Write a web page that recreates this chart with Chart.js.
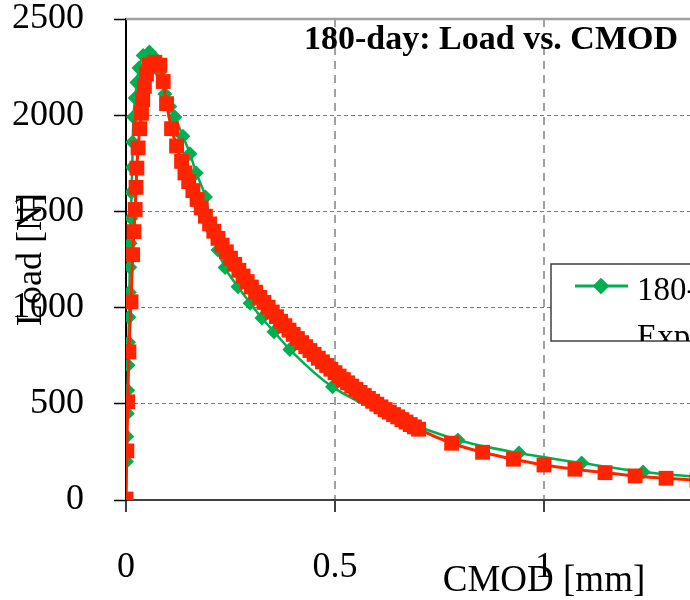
<!DOCTYPE html>
<html>
<head>
<meta charset="utf-8">
<script src="https://cdn.jsdelivr.net/npm/chart.js@4.4.1/dist/chart.umd.min.js"></script>
<style>
  html, body { margin: 0; padding: 0; background: #fff; }
  #wrap { width: 690px; height: 600px; overflow: hidden; position: relative; }
  canvas { display: block; }
</style>
</head>
<body>
<div id="wrap"><canvas id="myChart" width="980" height="600" style="width:980px;height:600px"></canvas></div>
<script>
const chartTitle = '180-day: Load vs. CMOD';
const seriesLabels = ['180-day Experiment', '180-day Model'];
const xTitle = 'CMOD [mm]';
const yTitle = 'Load [N]';
const xTickValues = [0, 0.5, 1, 1.5, 2];
const yTickValues = [0, 500, 1000, 1500, 2000, 2500];

// experiment (green diamonds)
const expCmod = [0, 0.001, 0.002, 0.003, 0.004, 0.005, 0.006, 0.007, 0.008, 0.009, 0.010, 0.012,
  0.013, 0.015, 0.016, 0.018, 0.022, 0.026, 0.031, 0.041, 0.056, 0.069, 0.081, 0.093, 0.105,
  0.117, 0.136, 0.153, 0.168, 0.190, 0.207, 0.220, 0.237, 0.268, 0.297, 0.325, 0.354, 0.392,
  0.494, 0.645, 0.794, 0.940, 1.090, 1.237, 1.385, 1.530, 1.680, 1.830, 1.980];
const expLoad = [0, 200, 330, 450, 570, 700, 820, 950, 1080, 1210, 1335, 1465,
  1600, 1730, 1860, 1990, 2090, 2170, 2245, 2310, 2328, 2297, 2225, 2110, 2045,
  1990, 1890, 1800, 1700, 1575, 1400, 1300, 1208, 1108, 1023, 946, 875, 782,
  588, 430, 312, 244, 192, 146, 118, 98, 85, 76, 70];

// model (red squares)
const modelCmod = [0, 0.002, 0.004, 0.007, 0.012, 0.016, 0.019, 0.022, 0.024, 0.026, 0.029, 0.033,
  0.037, 0.040, 0.044, 0.049, 0.056, 0.069, 0.081, 0.089, 0.097, 0.109, 0.121, 0.133, 0.141,
  0.15, 0.16, 0.17, 0.18, 0.19, 0.20, 0.21, 0.22, 0.23, 0.24, 0.25, 0.26, 0.27, 0.28, 0.29,
  0.30, 0.31, 0.32, 0.33, 0.34, 0.35, 0.36, 0.37, 0.38, 0.39, 0.40, 0.41, 0.42, 0.43, 0.44,
  0.45, 0.46, 0.47, 0.48, 0.49, 0.50, 0.51, 0.52, 0.53, 0.54, 0.55, 0.56, 0.57, 0.58, 0.59,
  0.60, 0.61, 0.62, 0.63, 0.64, 0.65, 0.66, 0.67, 0.68, 0.69, 0.70,
  0.779, 0.853, 0.927, 1.000, 1.074, 1.146, 1.218, 1.292, 1.366, 1.440, 1.514, 1.588,
  1.662, 1.736, 1.810, 1.884, 1.958];
const modelLoad = [5, 255, 510, 770, 1030, 1275, 1395, 1510, 1625, 1725, 1830, 1930,
  2010, 2080, 2150, 2215, 2260, 2275, 2260, 2175, 2060, 1930, 1840, 1760, 1700,
  1655, 1608, 1562, 1518, 1475, 1435, 1397, 1360, 1325, 1290, 1257, 1225, 1194, 1164, 1135,
  1107, 1080, 1053, 1027, 1002, 977, 953, 929, 906, 883, 861, 839, 818, 797, 777,
  757, 737, 718, 699, 680, 662, 644, 626, 609, 592, 575, 559, 543, 528, 513,
  498, 484, 470, 457, 444, 432, 418, 405, 392, 380, 368,
  295, 248, 212, 182, 160, 142, 125, 113, 103, 95, 88, 82,
  77, 73, 69, 66, 63];

const GREEN = '#00b050';
const RED = '#ff2400';
const FONT = '"Liberation Serif", "Times New Roman", serif';

Chart.defaults.font.family = FONT;
Chart.defaults.color = '#000';

// title inside plot, gray top frame line, and the partial legend box
const extras = {
  id: 'extras',
  beforeDatasetsDraw(chart) {
    const {ctx, chartArea} = chart;
    ctx.save();
    ctx.strokeStyle = '#a0a0a0';
    ctx.lineWidth = 2.5;
    ctx.beginPath();
    ctx.moveTo(chartArea.left, chartArea.top);
    ctx.lineTo(chartArea.right, chartArea.top);
    ctx.stroke();
    ctx.restore();
  },
  afterDraw(chart) {
    const {ctx} = chart;
    ctx.save();
    ctx.fillStyle = '#000';
    ctx.font = 'bold 34px ' + FONT;
    ctx.textAlign = 'center';
    ctx.textBaseline = 'middle';
    ctx.fillText(chartTitle, 491, 40);

    // legend
    const bx = 551, by = 264, bw = 400, bh = 77;
    ctx.fillStyle = '#fff';
    ctx.fillRect(bx, by, bw, bh);
    ctx.strokeStyle = '#404040';
    ctx.lineWidth = 1.5;
    ctx.strokeRect(bx, by, bw, bh);
    ctx.beginPath();
    ctx.rect(bx, by, bw, bh);
    ctx.clip();
    const ds = chart.data.datasets[0];
    ctx.strokeStyle = ds.borderColor;
    ctx.lineWidth = 3;
    ctx.beginPath();
    ctx.moveTo(575, 286);
    ctx.lineTo(628, 286);
    ctx.stroke();
    ctx.fillStyle = ds.borderColor;
    Chart.helpers.drawPoint(ctx, {pointStyle: 'rectRot', radius: 8, borderWidth: 0}, 601, 286);
    ctx.fill();
    ctx.fillStyle = '#000';
    ctx.font = '33px ' + FONT;
    ctx.textAlign = 'left';
    ctx.textBaseline = 'middle';
    const words = ds.label.split(' ');
    ctx.fillText(words[0], 637, 291);
    ctx.fillText(words.slice(1).join(' '), 637, 338);
    ctx.restore();
  }
};

const ctx = document.getElementById('myChart').getContext('2d');

const myChart = new Chart(ctx, {
  type: 'scatter',
  data: {
    datasets: [{
      label: seriesLabels[0],
      data: expCmod.map((x, i) => ({x: x, y: expLoad[i]})),
      showLine: true,
      borderColor: GREEN,
      backgroundColor: GREEN,
      borderWidth: 2.5,
      pointStyle: 'rectRot',
      pointRadius: 7.5,
      pointBorderWidth: 0,
      cubicInterpolationMode: 'monotone',
      order: 1
    }, {
      label: seriesLabels[1],
      data: modelCmod.map((x, i) => ({x: x, y: modelLoad[i]})),
      showLine: true,
      borderColor: RED,
      backgroundColor: RED,
      borderWidth: 3,
      pointStyle: 'rect',
      pointRadius: 10.5,
      pointBorderWidth: 0,
      cubicInterpolationMode: 'monotone',
      order: 0
    }]
  },
  options: {
    responsive: false,
    animation: false,
    devicePixelRatio: 1,
    layout: {padding: {top: 19, right: 18, left: 0, bottom: 0}},
    plugins: {
      legend: {display: false},
      tooltip: {enabled: false}
    },
    scales: {
      x: {
        type: 'linear',
        min: 0,
        max: 2,
        afterBuildTicks: (s) => { s.ticks = xTickValues.map(v => ({value: v})); },
        afterFit: (s) => { s.height = 100; s.paddingLeft = 0; s.paddingRight = 0; },
        ticks: {
          font: {size: 36, lineHeight: 1},
          padding: 38,
          maxRotation: 0,
          color: '#000',
          callback: (v) => String(v)
        },
        grid: {
          color: (c) => (c.tick && c.tick.value === 0) ? 'rgba(0,0,0,0)' : '#a0a0a0',
          lineWidth: 2,
          tickColor: '#000',
          tickLength: 12,
          tickWidth: 1.5,
          tickBorderDash: []
        },
        border: {display: true, color: '#404040', width: 2, dash: [8, 6]},
        title: {
          display: true,
          text: xTitle,
          font: {size: 37, lineHeight: 1},
          padding: {top: 0, bottom: 0},
          color: '#000'
        }
      },
      y: {
        type: 'linear',
        min: 0,
        max: 2500,
        afterBuildTicks: (s) => { s.ticks = yTickValues.map(v => ({value: v})); },
        afterFit: (s) => { s.width = 126; s.paddingTop = 0; s.paddingBottom = 0; },
        ticks: {
          font: {size: 36, lineHeight: 1},
          padding: 30,
          color: '#000',
          callback: (v) => String(v)
        },
        grid: {
          color: (c) => (c.tick && (c.tick.value === 0 || c.tick.value === 2500)) ? 'rgba(0,0,0,0)' : '#8c7460',
          lineWidth: 1,
          tickColor: '#000',
          tickLength: 12,
          tickWidth: 1.5,
          tickBorderDash: []
        },
        border: {display: true, color: '#000', width: 2, dash: [4, 3]},
        title: {
          display: true,
          text: yTitle,
          font: {size: 36, lineHeight: 1},
          padding: {top: 14, bottom: 0},
          color: '#000'
        }
      }
    }
  },
  plugins: [extras]
});
</script>
</body>
</html>
